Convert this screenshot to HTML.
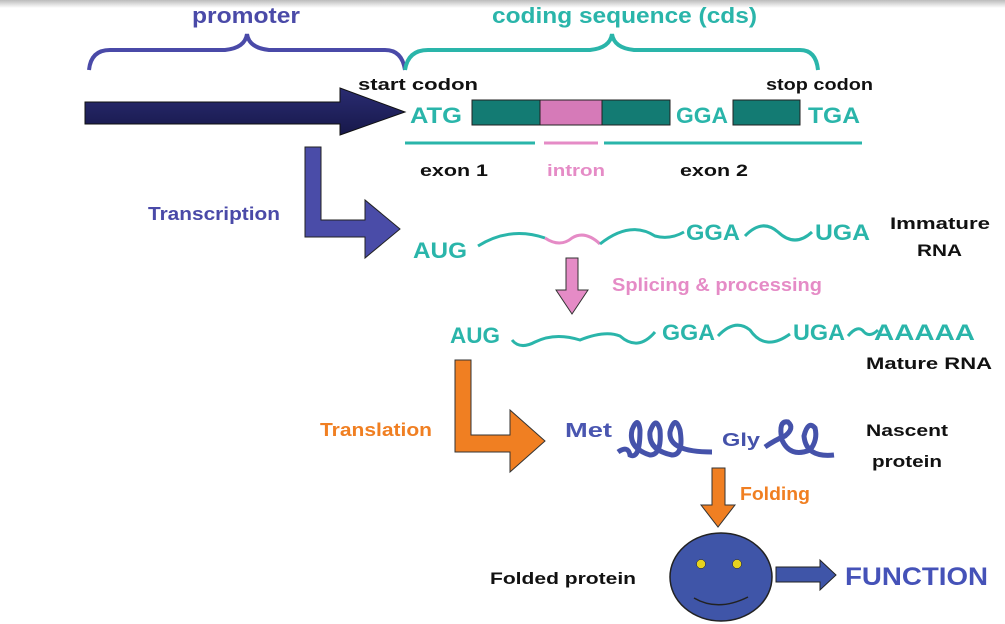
<!DOCTYPE html>
<html><head><meta charset="utf-8"><style>
html,body{margin:0;padding:0;background:#fff;}
svg{display:block;}
text{font-family:"Liberation Sans",sans-serif;font-weight:bold;}
</style></head><body>
<svg width="1005" height="624" viewBox="0 0 1005 624" xmlns="http://www.w3.org/2000/svg">
<defs>
<linearGradient id="tg" x1="0" y1="0" x2="0" y2="1"><stop offset="0" stop-color="#bbb"/><stop offset="1" stop-color="#fff"/></linearGradient>
<linearGradient id="ag" x1="0" y1="0" x2="0" y2="1"><stop offset="0" stop-color="#2a2c72"/><stop offset="1" stop-color="#17184a"/></linearGradient>
</defs>
<rect x="0" y="0" width="1005" height="8" fill="url(#tg)"/>
<text x="192" y="23" font-size="22" fill="#4a4aa8" textLength="108" lengthAdjust="spacingAndGlyphs">promoter</text>
<text x="492" y="23" font-size="22" fill="#2ab5aa" textLength="265" lengthAdjust="spacingAndGlyphs">coding sequence (cds)</text>
<path d="M89 70 Q91 50 110 50 L225 50 Q245 48 247 34 Q249 48 269 50 L385 50 Q402 50 405 70" fill="none" stroke="#4a4aa8" stroke-width="4"/>
<path d="M405 70 Q408 50 428 50 L590 50 Q610 48 612 34 Q614 48 634 50 L800 50 Q816 50 818 70" fill="none" stroke="#2ab5aa" stroke-width="4"/>
<polygon points="85,102 340,102 340,88 405,112 340,135 340,124 85,124" fill="url(#ag)" stroke="#111" stroke-width="1"/>
<text x="358" y="90" font-size="17" fill="#111" textLength="120" lengthAdjust="spacingAndGlyphs">start codon</text>
<text x="766" y="90" font-size="17" fill="#111" textLength="107" lengthAdjust="spacingAndGlyphs">stop codon</text>
<text x="410" y="123" font-size="22" fill="#2ab5aa" textLength="52" lengthAdjust="spacingAndGlyphs">ATG</text>
<rect x="472" y="100" width="68" height="25" fill="#137b73" stroke="#222"/>
<rect x="540" y="100" width="62" height="25" fill="#d67ab8" stroke="#222"/>
<rect x="602" y="100" width="68" height="25" fill="#137b73" stroke="#222"/>
<text x="676" y="123" font-size="22" fill="#2ab5aa" textLength="52" lengthAdjust="spacingAndGlyphs">GGA</text>
<rect x="733" y="100" width="67" height="25" fill="#137b73" stroke="#222"/>
<text x="808" y="123" font-size="22" fill="#2ab5aa" textLength="52" lengthAdjust="spacingAndGlyphs">TGA</text>
<line x1="405" y1="143" x2="535" y2="143" stroke="#2ab5aa" stroke-width="3"/>
<line x1="544" y1="143" x2="598" y2="143" stroke="#e58bc6" stroke-width="3"/>
<line x1="604" y1="143" x2="862" y2="143" stroke="#2ab5aa" stroke-width="3"/>
<text x="420" y="176" font-size="17" fill="#111" textLength="68" lengthAdjust="spacingAndGlyphs">exon 1</text>
<text x="547" y="176" font-size="17" fill="#e58bc6" textLength="58" lengthAdjust="spacingAndGlyphs">intron</text>
<text x="680" y="176" font-size="17" fill="#111" textLength="68" lengthAdjust="spacingAndGlyphs">exon 2</text>
<polygon points="305,147 321,147 321,220 365,220 365,200 400,229 365,258 365,237 305,237" fill="#4a4ca8" stroke="#222" stroke-width="1"/>
<text x="148" y="220" font-size="18" fill="#4a4aa8" textLength="132" lengthAdjust="spacingAndGlyphs">Transcription</text>
<text x="413" y="258" font-size="22" fill="#2ab5aa" textLength="54" lengthAdjust="spacingAndGlyphs">AUG</text>
<path d="M478 246 Q510 226 545 238" fill="none" stroke="#2ab5aa" stroke-width="3"/>
<path d="M545 238 Q560 248 572 238 Q585 230 600 244" fill="none" stroke="#e58bc6" stroke-width="3"/>
<path d="M600 244 Q630 220 655 236 Q670 240 684 232" fill="none" stroke="#2ab5aa" stroke-width="3"/>
<text x="686" y="240" font-size="22" fill="#2ab5aa" textLength="54" lengthAdjust="spacingAndGlyphs">GGA</text>
<path d="M745 236 Q762 218 778 232 Q795 248 812 232" fill="none" stroke="#2ab5aa" stroke-width="3"/>
<text x="815" y="240" font-size="22" fill="#2ab5aa" textLength="55" lengthAdjust="spacingAndGlyphs">UGA</text>
<text x="890" y="229" font-size="17" fill="#111" textLength="100" lengthAdjust="spacingAndGlyphs">Immature</text>
<text x="917" y="256" font-size="17" fill="#111" textLength="45" lengthAdjust="spacingAndGlyphs">RNA</text>
<polygon points="566,258 578,258 578,290 588,290 572,314 556,290 566,290" fill="#e58bc6" stroke="#333" stroke-width="1"/>
<text x="612" y="291" font-size="18" fill="#e58bc6" textLength="210" lengthAdjust="spacingAndGlyphs">Splicing &amp; processing</text>
<text x="450" y="343" font-size="22" fill="#2ab5aa" textLength="50" lengthAdjust="spacingAndGlyphs">AUG</text>
<path d="M512 340 Q520 350 535 342 Q555 332 580 340 Q605 330 620 336 Q638 352 655 332" fill="none" stroke="#2ab5aa" stroke-width="3"/>
<text x="662" y="340" font-size="22" fill="#2ab5aa" textLength="53" lengthAdjust="spacingAndGlyphs">GGA</text>
<path d="M718 336 Q735 318 750 330 Q765 352 790 334" fill="none" stroke="#2ab5aa" stroke-width="3"/>
<text x="793" y="340" font-size="22" fill="#2ab5aa" textLength="52" lengthAdjust="spacingAndGlyphs">UGA</text>
<path d="M848 336 Q858 324 864 332 Q870 338 878 330" fill="none" stroke="#2ab5aa" stroke-width="3"/>
<text x="874" y="340" font-size="22" fill="#2ab5aa" textLength="101" lengthAdjust="spacingAndGlyphs">AAAAA</text>
<text x="866" y="369" font-size="17" fill="#111" textLength="126" lengthAdjust="spacingAndGlyphs">Mature RNA</text>
<polygon points="455,360 471,360 471,435 510,435 510,410 545,441 510,472 510,452 455,452" fill="#f07f22" stroke="#333" stroke-width="1"/>
<text x="320" y="436" font-size="18" fill="#f07f22" textLength="112" lengthAdjust="spacingAndGlyphs">Translation</text>
<text x="565" y="437" font-size="20" fill="#4a56b0" textLength="47" lengthAdjust="spacingAndGlyphs">Met</text>
<path d="M618 452 Q628 445 630 455 Q640 460 640 430 Q638 415 632 430 Q628 448 650 455 Q662 455 660 430 Q656 415 650 432 Q648 450 672 455 Q684 455 680 430 Q675 414 670 432 Q668 452 712 452" fill="none" stroke="#4552aa" stroke-width="5"/>
<text x="722" y="446" font-size="18" fill="#4552aa" textLength="38" lengthAdjust="spacingAndGlyphs">Gly</text>
<path d="M765 447 Q775 440 785 436 Q795 428 788 422 Q778 420 782 440 Q790 458 810 450 Q818 440 815 428 Q808 420 804 436 Q806 458 834 455" fill="none" stroke="#4552aa" stroke-width="5"/>
<text x="866" y="436" font-size="17" fill="#111" textLength="82" lengthAdjust="spacingAndGlyphs">Nascent</text>
<text x="872" y="467" font-size="17" fill="#111" textLength="70" lengthAdjust="spacingAndGlyphs">protein</text>
<polygon points="712,468 725,468 725,505 735,505 718,527 701,505 712,505" fill="#f07f22" stroke="#333" stroke-width="1"/>
<text x="740" y="500" font-size="18" fill="#f07f22" textLength="70" lengthAdjust="spacingAndGlyphs">Folding</text>
<ellipse cx="721" cy="577" rx="51" ry="44" fill="#3f55a8" stroke="#222" stroke-width="1.5"/>
<circle cx="701" cy="564" r="4.5" fill="#e6d21e" stroke="#222" stroke-width="0.5"/>
<circle cx="737" cy="564" r="4.5" fill="#e6d21e" stroke="#222" stroke-width="0.5"/>
<path d="M694 598 Q718 612 748 597" fill="none" stroke="#222" stroke-width="1.5"/>
<text x="490" y="584" font-size="17" fill="#111" textLength="146" lengthAdjust="spacingAndGlyphs">Folded protein</text>
<polygon points="776,567 820,567 820,560 836,575 820,590 820,582 776,582" fill="#3f55a8" stroke="#222" stroke-width="1"/>
<text x="845" y="585" font-size="25" fill="#4552b8" textLength="143" lengthAdjust="spacingAndGlyphs">FUNCTION</text>
</svg>
</body></html>
